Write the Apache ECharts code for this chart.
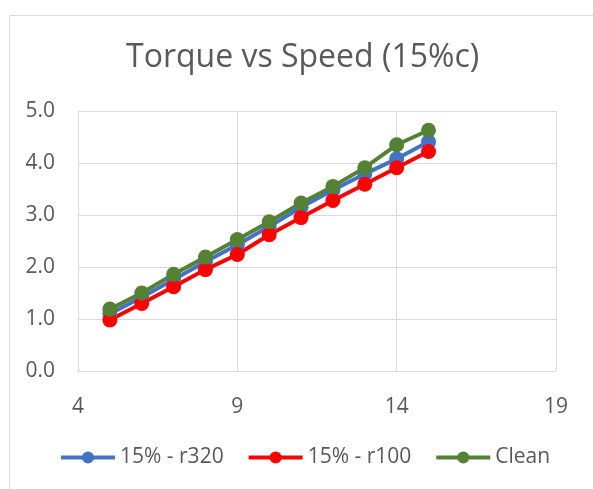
<!DOCTYPE html>
<html>
<head>
<meta charset="utf-8">
<script src="https://cdn.jsdelivr.net/npm/echarts@6/dist/echarts.min.js"></script>
<style>
  html, body { margin: 0; padding: 0; background: #ffffff; }
  #chart { width: 593px; height: 489px; }
</style>
</head>
<body>
<div id="chart"></div>
<script>
// Speed values (x) shared by all three runs
const speeds = [5, 6, 7, 8, 9, 10, 11, 12, 13, 14, 15];

// Torque readings per run
const torqueR320 = [1.10, 1.42, 1.76, 2.10, 2.43, 2.78, 3.15, 3.48, 3.79, 4.08, 4.41];
const torqueR100 = [0.98, 1.30, 1.62, 1.95, 2.24, 2.62, 2.95, 3.28, 3.59, 3.91, 4.22];
const torqueClean = [1.19, 1.50, 1.86, 2.19, 2.53, 2.87, 3.23, 3.55, 3.91, 4.35, 4.63];

const seriesNames = ['15% - r320', '15% - r100', 'Clean'];
const seriesColors = ['#4472C4', '#FF0000', '#548235'];

const FONT = '"Open Sans"';
const TEXT = '#595959';
const GRID = '#d9d9d9';

function pairs(ys) {
  return speeds.map((x, i) => [x, ys[i]]);
}

function lineSeries(name, ys, color) {
  return {
    name: name,
    type: 'line',
    data: pairs(ys),
    symbol: 'circle',
    symbolSize: 15,
    lineStyle: { color: color, width: 4 },
    itemStyle: { color: color },
    emphasis: { disabled: true },
    animation: false
  };
}

const chart = echarts.init(document.getElementById('chart'), null, { renderer: 'canvas' });

chart.setOption({
  backgroundColor: '#ffffff',
  textStyle: { fontFamily: FONT },
  title: {
    text: 'Torque vs Speed (15%c)',
    left: 121,
    top: 37,
    textStyle: { fontFamily: FONT, fontSize: 32, fontWeight: 'normal', color: TEXT }
  },
  graphic: [{
    type: 'rect',
    left: 7,
    top: 13,
    shape: { width: 620, height: 520 },
    style: { fill: 'none', stroke: GRID, lineWidth: 1 },
    silent: true
  }],
  legend: {
    data: seriesNames,
    bottom: 16,
    left: 54,
    itemWidth: 54,
    itemHeight: 15,
    itemGap: 23,
    lineStyle: { width: 4 },
    textStyle: { fontFamily: FONT, fontSize: 21, color: TEXT }
  },
  grid: { left: 78, right: 37, top: 111, bottom: 118, containLabel: false },
  xAxis: {
    type: 'value',
    min: 4,
    max: 19,
    interval: 5,
    axisLine: { show: true, lineStyle: { color: GRID, width: 1 } },
    axisTick: { show: false },
    splitLine: { show: true, lineStyle: { color: GRID, width: 1 } },
    axisLabel: { color: TEXT, fontFamily: FONT, fontSize: 21, margin: 26 }
  },
  yAxis: {
    type: 'value',
    min: 0,
    max: 5,
    interval: 1,
    axisLine: { show: false },
    axisTick: { show: false },
    splitLine: { show: true, lineStyle: { color: GRID, width: 1 } },
    axisLabel: {
      color: TEXT, fontFamily: FONT, fontSize: 21, margin: 23,
      formatter: v => v.toFixed(1)
    }
  },
  series: [
    lineSeries(seriesNames[0], torqueR320, seriesColors[0]),
    lineSeries(seriesNames[1], torqueR100, seriesColors[1]),
    lineSeries(seriesNames[2], torqueClean, seriesColors[2])
  ]
});
</script>
</body>
</html>
